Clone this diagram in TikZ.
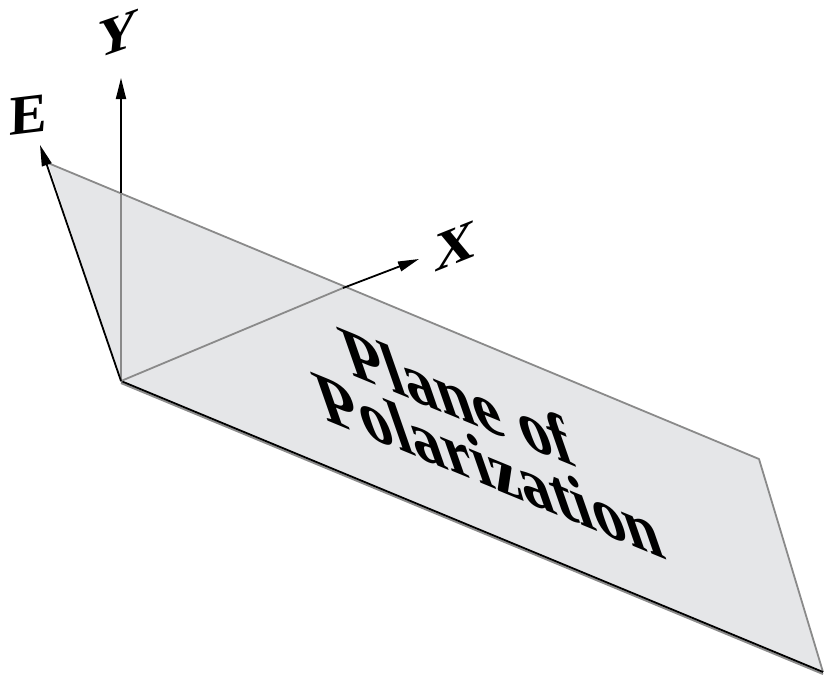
\documentclass[tikz,border=0pt]{standalone}
\usepackage{fontspec}
\setmainfont{Liberation Serif}
\usetikzlibrary{arrows.meta}
\definecolor{planefill}{RGB}{229,230,232}
\definecolor{planeedge}{RGB}{138,138,138}

\begin{document}
\begin{tikzpicture}[x=1pt, y=1pt,
    axis/.style={-{Triangle[length=21pt,width=10pt]}, line width=1.8pt, black},
    hidden/.style={line width=1.8pt, planeedge},
    lbl/.style={inner sep=0pt, font=\fontsize{56}{56}\selectfont\bfseries},
    word/.style={transform shape, anchor=base, inner sep=0pt,
                 font=\fontsize{66}{66}\selectfont\bfseries}
  ]
    \useasboundingbox (0,0) rectangle (825,-678);

    % corners of the plane
    \coordinate (O) at (121,-381);
    \coordinate (tl) at (48,-163);
    \coordinate (tr) at (759,-459);
    \coordinate (br) at (823,-672);
    % axis tips and where they leave the plane
    \coordinate (etip) at (40,-145);
    \coordinate (ytip) at (121,-78);
    \coordinate (xtip) at (419,-259);
    \coordinate (ycut) at (121,-193);
    \coordinate (xcut) at (343,-288);

    \fill[planefill] (O) -- (tl) -- (tr) -- (br) -- cycle;
    \draw[hidden, line join=round] (tl) -- (tr) -- (br);
    \draw[line width=2pt, black!45] ([yshift=-2pt]O) -- ([yshift=-2pt]br);
    \draw[line width=1.8pt, black] (O) -- (br);

    \draw[hidden] (O) -- (ycut);
    \draw[hidden] (O) -- (xcut);
    \draw[axis] (ycut) -- (ytip);
    \draw[axis] (xcut) -- (xtip);
    \draw[axis] (O) -- (etip);

    \begin{scope}[shift={(29,-115)}]
      \node[lbl, cm={1,0.12,0.02,1,(0,0)}] (elbl) at (0,0) {E};
    \end{scope}
    \begin{scope}[shift={(118,-34)}]
      \node[lbl, cm={1,0.35,0.1,1,(0,0)}] (ylbl) at (0,0) {Y};
    \end{scope}
    \begin{scope}[shift={(455,-246)}]
      \node[lbl, cm={1,0.4,0.03,1,(0,0)}] (xlbl) at (0,0) {X};
    \end{scope}

    % text lying in the plane
    \begin{scope}[shift={(466,-422)}, cm={0.990,-0.407,-0.395,1.133,(0,0)}]
      \node[word] (line1) at (0,0) {Plane of};
      \node[word] (line2) at (9pt,-57pt) {Polarization};
    \end{scope}
\end{tikzpicture}
\end{document}
